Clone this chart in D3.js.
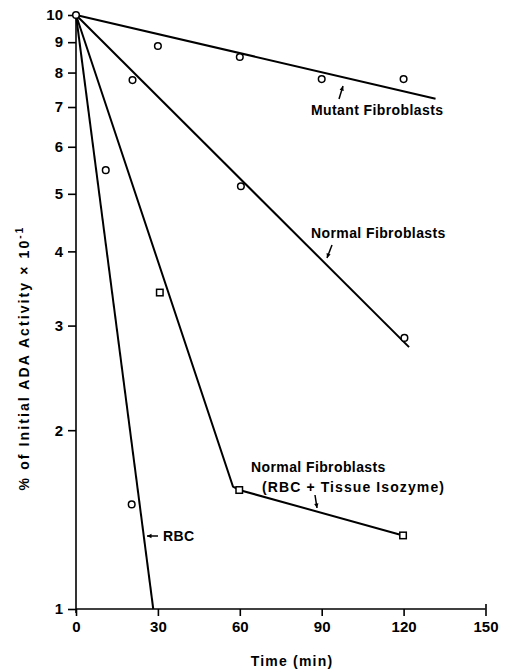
<!DOCTYPE html>
<html>
<head>
<meta charset="utf-8">
<script src="https://cdn.jsdelivr.net/npm/d3@7"></script>
<style>
  html, body { margin: 0; padding: 0; background: #fff; }
  svg { display: block; }
  text { font-family: "Liberation Sans", Arial, sans-serif; font-weight: bold; fill: #000; }
</style>
</head>
<body>
<svg id="chart" width="507" height="671"></svg>
<script>
// ---- data ----
const timeTicks = [0, 30, 60, 90, 120, 150];
const activityTicks = [1, 2, 3, 4, 5, 6, 7, 8, 9, 10];

const mutantTime = [0, 30, 60, 90, 120];
const mutantValue = [10, 8.87, 8.5, 7.8, 7.8];
const mutantFitTime = [0, 131.7];
const mutantFitValue = [10, 7.23];

const normalTime = [20.7, 60.4, 120.3];
const normalValue = [7.77, 5.15, 2.86];
const normalFitTime = [0, 122];
const normalFitValue = [10, 2.76];

const rbcTime = [10.9, 20.4];
const rbcValue = [5.48, 1.50];
const rbcFitTime = [0, 28.3];
const rbcFitValue = [10, 1];

const tissueTime = [30.7, 59.8, 119.8];
const tissueValue = [3.41, 1.586, 1.33];
const tissueFitTime = [0, 57.5, 59.8, 119.8];
const tissueFitValue = [10, 1.607, 1.586, 1.33];

// ---- layout ----
const svg = d3.select("#chart");
const x = d3.scaleLinear().domain([0, 150]).range([76, 485.5]);
const y = d3.scaleLog().domain([1, 10]).range([609, 15]);

const zip = (a, b) => a.map((d, i) => [d, b[i]]);
const line = d3.line().x(d => x(d[0])).y(d => y(d[1]));

// axes
const gx = svg.append("g").attr("transform", `translate(0,${y(1)})`)
  .call(d3.axisBottom(x).tickValues(timeTicks).tickSize(7).tickPadding(5).tickFormat(d3.format("d")));
const gy = svg.append("g").attr("transform", `translate(${x(0)},0)`)
  .call(d3.axisLeft(y).tickValues(activityTicks).tickSize(8).tickPadding(5).tickFormat(d3.format("d")));
[gx, gy].forEach(g => {
  g.select(".domain").attr("stroke", "#000").attr("stroke-width", 1.6);
  g.selectAll(".tick line").attr("stroke", "#000").attr("stroke-width", 1.6);
  g.selectAll(".tick text").style("font-size", "15px").style("font-family", "'Liberation Sans', Arial, sans-serif").style("font-weight", "bold");
});
gy.select(".domain").attr("d", `M-0,${y(10)}V${y(1) + 4}`);
gx.select(".domain").attr("d", `M${x(0)},0H${x(150)}`);
gx.selectAll(".tick").filter(d => d === 150).select("line").attr("y1", -5);

// fit lines
const fits = [
  zip(mutantFitTime, mutantFitValue),
  zip(normalFitTime, normalFitValue),
  zip(rbcFitTime, rbcFitValue),
  zip(tissueFitTime, tissueFitValue)
];
svg.append("g").selectAll("path").data(fits).join("path")
  .attr("d", line).attr("fill", "none").attr("stroke", "#000").attr("stroke-width", 2);

// circles
const circlePts = [].concat(zip(mutantTime, mutantValue), zip(normalTime, normalValue), zip(rbcTime, rbcValue));
svg.append("g").selectAll("circle").data(circlePts).join("circle")
  .attr("cx", d => x(d[0])).attr("cy", d => y(d[1])).attr("r", 3.3)
  .attr("fill", "#fff").attr("stroke", "#000").attr("stroke-width", 1.5);

// squares
const s = 6.5;
svg.append("g").selectAll("rect").data(zip(tissueTime, tissueValue)).join("rect")
  .attr("x", d => x(d[0]) - s / 2).attr("y", d => y(d[1]) - s / 2)
  .attr("width", s).attr("height", s)
  .attr("fill", "#fff").attr("stroke", "#000").attr("stroke-width", 1.5);

// annotations
function label(txt, px, py, ls) {
  svg.append("text").attr("x", px).attr("y", py)
    .style("font-size", "14px").style("letter-spacing", (ls || 0.4) + "px").text(txt);
}
function arrow(x1, y1, x2, y2) {
  svg.append("line").attr("x1", x1).attr("y1", y1).attr("x2", x2).attr("y2", y2)
    .attr("stroke", "#000").attr("stroke-width", 1.5);
  const a = Math.atan2(y2 - y1, x2 - x1), L = 5, w = 0.45;
  const p = [[x2, y2],
    [x2 - L * Math.cos(a - w), y2 - L * Math.sin(a - w)],
    [x2 - L * Math.cos(a + w), y2 - L * Math.sin(a + w)]];
  svg.append("path").attr("d", "M" + p.join("L") + "Z").attr("fill", "#000");
}
label("Mutant Fibroblasts", 311, 115);
arrow(339, 99, 343, 86);
label("Normal Fibroblasts", 311, 238);
arrow(332, 245, 327, 258);
label("Normal Fibroblasts", 251, 472);
label("(RBC + Tissue Isozyme)", 262, 492, 1.1);
arrow(315, 495, 317, 508);
label("RBC", 163, 541);
arrow(158, 536, 147, 536);

// axis titles
svg.append("text").attr("x", 292).attr("y", 666).attr("text-anchor", "middle")
  .style("font-size", "14px").style("letter-spacing", "1.2px").text("Time (min)");
const yt = svg.append("text").attr("transform", "translate(29,358) rotate(-90)")
  .attr("text-anchor", "middle").style("font-size", "14px").style("letter-spacing", "2.1px");
yt.append("tspan").text("% of Initial ADA Activity \u00d7 10");
yt.append("tspan").attr("dy", -6).style("font-size", "10px").text("-1");
</script>
</body>
</html>
